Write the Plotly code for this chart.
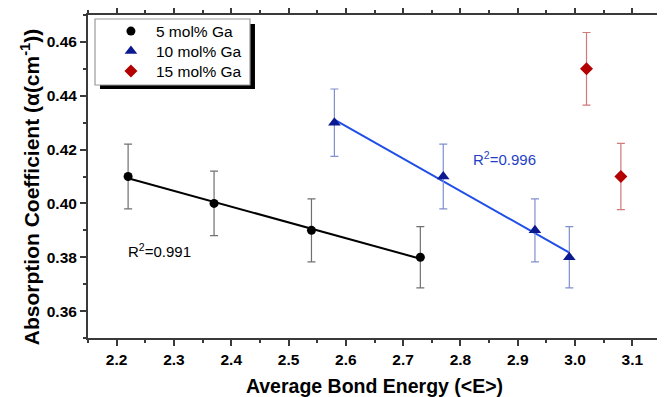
import numpy as np
import plotly.graph_objects as go

# ---- data ----
x5 = [2.22, 2.37, 2.54, 2.73]
y5 = [0.41, 0.40, 0.39, 0.38]
e5 = [0.012, 0.012, 0.0117, 0.0114]

x10 = [2.58, 2.77, 2.93, 2.99]
y10 = [0.43, 0.41, 0.39, 0.38]
e10 = [0.0125, 0.012, 0.0117, 0.0114]

x15 = [3.02, 3.08]
y15 = [0.45, 0.41]
e15 = [0.0135, 0.0123]

names = ["5 mol% Ga", "10 mol% Ga", "15 mol% Ga"]
r2_labels = ["R<sup>2</sup>=0.991", "R<sup>2</sup>=0.996"]
x_title = "Average Bond Energy (&lt;E&gt;)"
y_title = "Absorption Coefficient (α(cm<sup>-1</sup>))"

FONT = "Liberation Sans, Arial, sans-serif"
AX = "#3a3a3a"

fig = go.Figure()

# linear fits computed from the data
for xs, ys, col in [(x5, y5, "#000000"), (x10, y10, "#1f4fe8")]:
    k, b = np.polyfit(xs, ys, 1)
    xe = np.array([min(xs), max(xs)])
    fig.add_trace(go.Scatter(x=xe, y=k * xe + b, mode="lines",
                             line=dict(color=col, width=2), showlegend=False,
                             hoverinfo="skip"))

fig.add_trace(go.Scatter(x=x5, y=y5, mode="markers", name=names[0], legend="legend",
                         marker=dict(symbol="circle", size=9, color="#000000"),
                         error_y=dict(type="data", array=e5, color="#707070",
                                      thickness=1.2, width=4)))
fig.add_trace(go.Scatter(x=x10, y=y10, mode="markers", name=names[1], legend="legend2",
                         marker=dict(symbol="triangle-up", size=11, color="#0c1a90"),
                         error_y=dict(type="data", array=e10, color="#8090cc",
                                      thickness=1.2, width=4)))
fig.add_trace(go.Scatter(x=x15, y=y15, mode="markers", name=names[2], legend="legend3",
                         marker=dict(symbol="diamond", size=10, color="#b40000"),
                         error_y=dict(type="data", array=e15, color="#d07a7a",
                                      thickness=1.2, width=4)))

tickfont = dict(family=FONT, size=15.5, color="#000", weight="bold")
axis_common = dict(showline=True, linecolor=AX, linewidth=2, mirror="ticks",
                   ticks="outside", ticklen=6, tickwidth=1.5, tickcolor=AX,
                   showgrid=False, zeroline=False, automargin=False,
                   tickfont=tickfont)

fig.update_xaxes(range=[2.15, 3.15], dtick=0.1, tick0=2.2, tickformat=".1f",
                 minor=dict(dtick=0.05, ticklen=3, tickcolor=AX, ticks="outside", showgrid=False),
                 title=dict(text=x_title,
                            font=dict(family=FONT, size=19.5, color="#000", weight="bold"),
                            standoff=13),
                 **axis_common)
fig.update_yaxes(range=[0.35, 0.47], dtick=0.02, tick0=0.36, tickformat=".2f",
                 minor=dict(dtick=0.01, ticklen=3, tickcolor=AX, ticks="outside", showgrid=False),
                 **axis_common)

# y-axis title as a rotated annotation (slightly below the axis centre, as in the original)
fig.add_annotation(x=-0.1, y=0.466, xref="paper", yref="paper", text=y_title,
                   textangle=-90, showarrow=False, xanchor="center", yanchor="middle",
                   font=dict(family=FONT, size=21, color="#000", weight="bold"))

# legend box with shadow
fig.add_shape(type="rect", xref="paper", yref="paper", x0=0.0209, x1=0.2914,
              y0=0.7709, y1=0.9721, fillcolor="#000", line=dict(width=0), layer="above")
fig.add_shape(type="rect", xref="paper", yref="paper", x0=0.0122, x1=0.2827,
              y0=0.7833, y1=0.9876, fillcolor="#fff", line=dict(color="#9a9a9a", width=1.2),
              layer="above")

fig.add_annotation(x=2.217, y=0.3826, xref="x", yref="y", text=r2_labels[0],
                   showarrow=False, xanchor="left", yanchor="middle",
                   font=dict(family=FONT, size=15, color="#000"))
fig.add_annotation(x=2.818, y=0.4168, xref="x", yref="y", text=r2_labels[1],
                   showarrow=False, xanchor="left", yanchor="middle",
                   font=dict(family=FONT, size=15, color="#1f3fc8"))

leg_common = dict(x=0.0313, xanchor="left", yanchor="middle",
                  bgcolor="rgba(0,0,0,0)", borderwidth=0, itemwidth=40,
                  font=dict(family=FONT, size=15.5, color="#000"))

# the page body has an 8px margin, so the figure is sized/offset to compensate
fig.update_layout(
    width=657, height=389,
    margin=dict(l=80, r=4, t=7, b=59),
    paper_bgcolor="#fff", plot_bgcolor="#fff",
    font=dict(family=FONT),
    showlegend=True,
    legend=dict(y=0.9489, **leg_common),
    legend2=dict(y=0.8870, **leg_common),
    legend3=dict(y=0.8251, **leg_common),
)

fig.write_html("out.html")
